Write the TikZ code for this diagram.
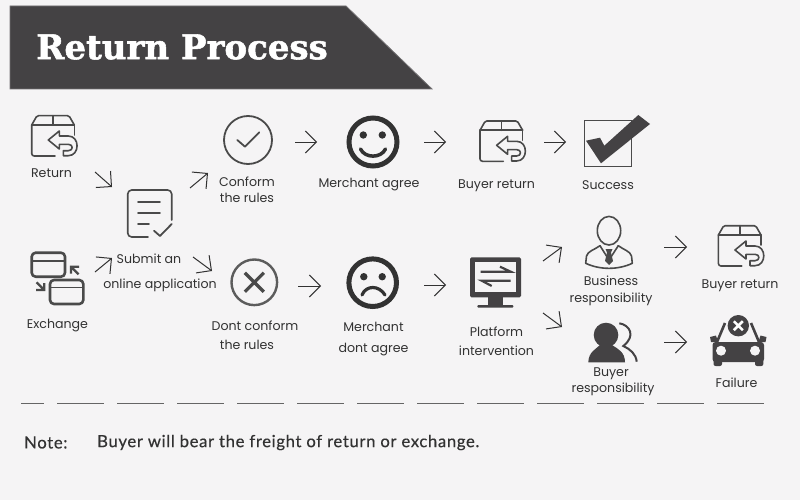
\documentclass[tikz,border=0pt]{standalone}
\usepackage{fontspec}
\setmainfont{Poppins}
\newfontfamily\titulofont[FakeBold=1.6]{DejaVu Serif Bold}
\newfontfamily\notafont[FakeBold=0.4,LetterSpace=3.8]{Lato}
\usetikzlibrary{arrows.meta,calc}
\definecolor{FundoPale}{RGB}{245,244,245}
\definecolor{FaixaDark}{RGB}{68,66,68}
\definecolor{IconeGray}{RGB}{74,74,74}
\definecolor{TextoGray}{RGB}{50,50,50}
\tikzset{
  icone/.style={inner sep=0pt, minimum size=0pt},
  rotulo/.style={font=\fontsize{12.6}{14.5}\selectfont, text=TextoGray, align=center, inner sep=0pt, yshift=-0.5pt},
  nota/.style={anchor=west, inner sep=0pt, text=TextoGray, font=\notafont\fontsize{16.7}{19}\selectfont},
  seta/.style={-{Straight Barb[length=11pt,width=22pt]}, line width=1pt, TextoGray},
  traco/.style={IconeGray, line width=1.6pt, line join=round, line cap=round},
  caixa/.pic={
    \draw[traco, rounded corners=1.5pt] (-21.3,-11) -- (-16,-20.3) -- (16,-20.3) -- (21.3,-11);
    \draw[traco] (-21.3,-11) -- (21.3,-11) (0,-20.3) -- (0,-11);
    \draw[traco, rounded corners=2.5pt] (-21.3,-11) -- (-21.3,20) -- (2,20);
    \draw[traco] (21.3,-11) -- (21.3,-1);
    \draw[traco, fill=FundoPale] (-4.7,4) -- (6.3,-5) -- (6.3,0) -- (15.3,0)
      .. controls (27,0) and (27,19.7) .. (15.3,19.7) -- (10.3,19.7) -- (10.3,14.7) -- (15.3,14.7)
      .. controls (20.5,14.7) and (20.5,8.3) .. (15.3,8.3) -- (6.3,8.3) -- (6.3,13) -- cycle;
  },
}

\begin{document}
\begin{tikzpicture}[x=1pt,y=-1pt]
  \useasboundingbox (0,0) rectangle (800,500);
  \fill[FundoPale] (0,0) rectangle (800,500);

  % Faixa do titulo
  \draw[FaixaDark!75, fill=FaixaDark, line width=0.8pt] (10,6) -- (346,6) -- (432,89) -- (10,89) -- cycle;
  \node[anchor=west, inner sep=0pt, text=white, font=\titulofont\fontsize{34}{37}\selectfont] (titulo) at (36,47) {Return Process};

  % Icones da primeira linha
  \node[icone] (retorno) at (53,136) {};
  \pic at (retorno) {caixa};
  \node[icone] (pedido) at (150,213.5) {};
  \draw[traco, rounded corners=4pt] (171.7,220) -- (171.7,190) -- (127.7,190) -- (127.7,237) -- (148,237);
  \draw[traco] (138,201.7) -- (160,201.7) (138,212.7) -- (160,212.7) (138,224) -- (149,224);
  \draw[traco, line width=1.8pt] (154,230.7) -- (160,236) -- (171.7,224);
  \node[icone] (regra) at (248,140) {};
  \draw[traco, line width=1.8pt] (regra) circle[radius=24];
  \draw[traco, line width=1.8pt] (237.3,140) -- (245,146.7) -- (259.3,132.3);
  \node[icone] (feliz) at (373,142) {};
  \draw[TextoGray, line width=5pt] (feliz) circle[radius=24];
  \fill[TextoGray] (363.3,135) circle[radius=3.7] (382.3,135) circle[radius=3.7];
  \draw[TextoGray, line width=3.5pt, line cap=round] (360.5,149) .. controls (365,158.5) and (381,158.5) .. (385.5,149);
  \node[icone] (devolve) at (501.3,141.3) {};
  \pic at (devolve) {caixa};
  \node[icone] (sucesso) at (608,144) {};
  \draw[IconeGray, line width=1pt] (584.3,121) rectangle (631.7,166.7);
  \fill[FaixaDark] (586,140.7) -- (600,137.7) -- (604.3,145.7) -- (638.3,115) -- (650,124) -- (601,163.3) -- cycle;

  % Icones da segunda linha
  \node[icone] (troca) at (57,278.5) {};
  \draw[traco, line width=2.6pt, rounded corners=4pt] (31.7,252.7) rectangle (65,276.7);
  \draw[traco, line width=1.6pt] (31.7,260.7) -- (65,260.7);
  \draw[traco, line width=2.6pt, rounded corners=4pt] (50,280) rectangle (83.3,304);
  \draw[traco, line width=1.6pt] (50,287.3) -- (83.3,287.3);
  \draw[traco, line width=2.2pt, line cap=butt, line join=miter] (71,273.5) -- (71,266.7) -- (79,266.7) (71,266.7) -- (78.5,274.3);
  \draw[traco, line width=2.2pt, line cap=butt, line join=miter] (36,290) -- (44.3,290) -- (44.3,283) (44.3,290) -- (36.5,282.3);
  \node[icone] (xis) at (254.3,282.3) {};
  \draw[IconeGray!90, line width=2.4pt] (xis) circle[radius=22.8];
  \draw[IconeGray, line width=3.2pt] (244.8,272.8) -- (263.8,291.8) (263.8,272.8) -- (244.8,291.8);
  \node[icone] (triste) at (372.7,282.7) {};
  \draw[TextoGray, line width=5pt] (triste) circle[radius=23.8];
  \fill[TextoGray] (363.8,276.7) circle[radius=3.7] (382.2,276.7) circle[radius=3.7];
  \draw[TextoGray, line width=3.2pt, line cap=round] (362,295) .. controls (366,285) and (379,285) .. (385,295);
  \node[icone] (plataforma) at (495.5,280) {};
  \fill[FaixaDark, rounded corners=1.5pt] (470,257.3) rectangle (521,297.3);
  \fill[FundoPale] (475,262.3) rectangle (516,292.3);
  \fill[FaixaDark] (488,297) rectangle (503,305);
  \fill[FaixaDark, rounded corners=1pt] (477.3,305) rectangle (513.3,307.7);
  \draw[FaixaDark, line width=2.2pt] (480.7,271.7) -- (510.7,271.7) -- (500,266.7);
  \draw[FaixaDark, line width=2.2pt] (510.7,280.7) -- (481.7,280.7) -- (491.7,286);
  \node[icone] (gerente) at (609,247) {};
  \draw[traco] (609,230.7) ellipse[x radius=11.7, y radius=14.3];
  \draw[traco] (600,245.7) .. controls (594,250) and (588,251) .. (586.5,256) -- (585.7,263.3)
    .. controls (600,270) and (618,270) .. (632.3,263.3) -- (631.5,256)
    .. controls (630,251) and (624,250) .. (618.3,245.7);
  \draw[traco] (600,245.7) -- (609,260) -- (618.3,245.7);
  \fill[IconeGray] (605.5,249) -- (612.5,249) -- (611,252.5) -- (613,261) -- (609,265) -- (605,261) -- (607,252.5) -- cycle;
  \node[icone] (comprador) at (612,342) {};
  \fill[FaixaDark] (606,335) circle[radius=12.3];
  \fill[FaixaDark] (588.3,362.3) .. controls (588.5,352) and (596,349) .. (600,345) -- (612,345)
    .. controls (618,349) and (625,352) .. (625,362.3) -- cycle;
  \draw[FaixaDark, line width=2pt] (619.3,323.3) .. controls (630,325) and (636,336) .. (623.3,346) .. controls (630,349) and (636,354) .. (636.7,361.7);
  \node[icone] (devolve2) at (739.7,246) {};
  \pic at (devolve2) {caixa};
  \node[icone] (falha) at (738,345) {};
  \draw[FaixaDark, line width=2.6pt] (725,323) -- (717,342) (751,323) -- (759,342);
  \fill[FaixaDark, rounded corners=3pt] (712.5,342) rectangle (764,362);
  \fill[FaixaDark, rounded corners=2pt] (713.5,356) rectangle (722,366) (755,356) rectangle (763.3,366);
  \fill[FaixaDark] (710,337) -- (716,335.5) -- (718,342) -- (711,342) -- cycle (766.5,337) -- (760.5,335.5) -- (758.5,342) -- (765.5,342) -- cycle;
  \fill[FundoPale] (721,350.7) circle[radius=5] (755,350.7) circle[radius=5];
  \fill[FaixaDark] (738.3,325.7) circle[radius=10.7];
  \draw[white, line width=2.6pt] (733.8,321.2) -- (742.8,330.2) (742.8,321.2) -- (733.8,330.2);

  % Rotulos
  \node[rotulo] (tretorno) at (51.5,172.5) {Return};
  \node[rotulo] (tregra) at (247,189) {Conform\\[1.5pt]the rules};
  \node[rotulo] (tfeliz) at (369,184) {Merchant agree};
  \node[rotulo] (tdevolve) at (496.5,185) {Buyer return};
  \node[rotulo] (tsucesso) at (608,185) {Success};
  \node[rotulo] (tpedido) at (160,272) {Submit an\hspace*{22pt}\\[10.5pt]online application};
  \node[rotulo] (ttroca) at (57.5,325.5) {Exchange};
  \node[rotulo] (txis) at (255,335) {Dont conform\\[4.5pt]the rules\hspace*{16pt}};
  \node[rotulo] (ttriste) at (373.5,339) {Merchant\\[6.5pt]dont agree};
  \node[rotulo] (tplataforma) at (496.5,340.5) {Platform\\[4.5pt]intervention};
  \node[rotulo] (tgerente) at (611,290) {Business\\[2.5pt]responsibility};
  \node[rotulo] (tdevolve2) at (740,285.5) {Buyer return};
  \node[rotulo] (tcomprador) at (613,381.5) {Buyer\hspace*{4pt}\\[1.5pt]responsibility};
  \node[rotulo] (tfalha) at (736.5,382.5) {Failure};

  % Setas
  \draw[seta] ($(retorno)+(42,36)$) -- ($(pedido)+(-38,-26.5)$);
  \draw[seta] ($(pedido)+(40,-25.5)$) -- ($(regra)+(-40,33)$);
  \draw[seta] ($(regra)+(47,2)$) -- ($(feliz)+(-56,0)$);
  \draw[seta] ($(feliz)+(51,0)$) -- ($(devolve)+(-55.3,0.7)$);
  \draw[seta] ($(devolve)+(42.7,0.7)$) -- ($(sucesso)+(-42,-2)$);
  \draw[seta] ($(troca)+(38,-6.5)$) -- ($(pedido)+(-38,44.5)$);
  \draw[seta] ($(pedido)+(43,43.5)$) -- ($(xis)+(-42.3,-11.3)$);
  \draw[seta] ($(xis)+(43.7,3.7)$) -- ($(triste)+(-51.7,3.3)$);
  \draw[seta] ($(triste)+(51.3,2.3)$) -- ($(plataforma)+(-49.5,5)$);
  \draw[seta] ($(plataforma)+(47.5,-19)$) -- ($(gerente)+(-47,0)$);
  \draw[seta] ($(plataforma)+(47.5,33)$) -- ($(comprador)+(-50,-15)$);
  \draw[seta] ($(gerente)+(55,0)$) -- ($(devolve2)+(-52.7,1)$);
  \draw[seta] ($(comprador)+(52,0)$) -- ($(falha)+(-51,-3)$);

  % Linha tracejada e nota
  \draw[IconeGray!85, line width=1.6pt, dash pattern=on 47pt off 13pt, dash phase=24pt] (21,403.5) -- (764,403.5);
  \node[nota] (tnota) at (24,442.5) {Note:};
  \node[nota] (tfrete) at (97,442.5) {Buyer will bear the freight of return or exchange.};
\end{tikzpicture}
\end{document}
